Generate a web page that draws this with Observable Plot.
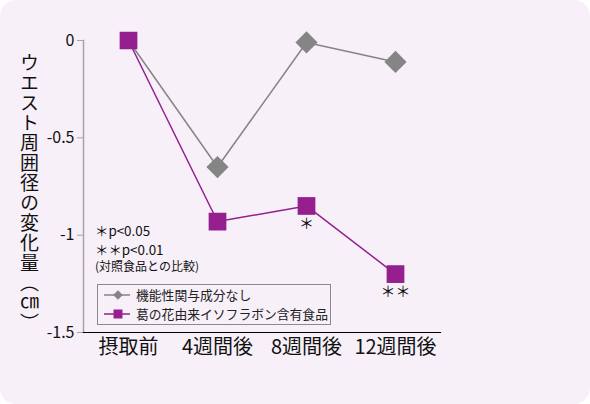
<!DOCTYPE html>
<html>
<head>
<meta charset="utf-8">
<script src="https://cdn.jsdelivr.net/npm/d3@7"></script>
<script src="https://cdn.jsdelivr.net/npm/@observablehq/plot@0.6"></script>
<style>
  html, body { margin: 0; padding: 0; background: #ffffff; }
  #card {
    position: relative; width: 590px; height: 404px; background: #f7f0f8;
    border-radius: 16px; overflow: hidden;
    font-family: "Noto Sans CJK JP", "Noto Sans", sans-serif; color: #111;
  }
  #chart { position: absolute; left: 0; top: 0; }
  #ytitle {
    position: absolute; left: 20px; top: 53px; writing-mode: vertical-rl;
    font-size: 19px; line-height: 1; color: #111; letter-spacing: 1px;
  }
  #notes { position: absolute; left: 95px; top: 221px; white-space: nowrap; }
  #notes div { font-size: 13.4px; height: 18.5px; line-height: 18.5px; }
  #notes div.small { font-size: 12px; height: 16px; line-height: 16px; }
  #legend {
    position: absolute; left: 97px; top: 284px; width: 234px; height: 41px;
    border: 1px solid #8a8a8a; box-sizing: border-box; padding-top: 1px;
  }
  .row { display: flex; align-items: center; height: 18.5px; line-height: 18.5px; font-size: 12.8px; color: #222; white-space: nowrap; }
  .row svg { margin-left: 6px; margin-right: 6px; flex: none; }
</style>
</head>
<body>
<div id="card">
  <div id="chart"></div>
  <div id="ytitle"></div>
  <div id="notes"></div>
  <div id="legend"></div>
</div>
<script>
const timepoints = ["摂取前", "4週間後", "8週間後", "12週間後"];
const seriesNames = ["機能性関与成分なし", "葛の花由来イソフラボン含有食品"];
const controlValues = [0, -0.65, -0.01, -0.11];
const isoflavoneValues = [0, -0.93, -0.85, -1.2];
const significance = ["", "", "＊", "＊＊"];
const yTicks = [0, -0.5, -1, -1.5];
const yTitle = "ウエスト周囲径の変化量（㎝）";
const notes = ["＊p<0.05", "＊＊p<0.01", "(対照食品との比較)"];

const seriesColors = ["#858585", "#951f8e"];
const seriesSymbols = ["diamond2", "square"];

const rows = [];
timepoints.forEach((t, i) => rows.push({t, v: controlValues[i], s: seriesNames[0], sig: ""}));
timepoints.forEach((t, i) => rows.push({t, v: isoflavoneValues[i], s: seriesNames[1], sig: significance[i]}));

const chart = Plot.plot({
  width: 590, height: 404,
  marginLeft: 83, marginRight: 150, marginTop: 40, marginBottom: 72,
  style: {background: "transparent", fontFamily: "'Noto Sans CJK JP', sans-serif", overflow: "visible"},
  x: {type: "point", domain: timepoints, padding: 0.5, label: null},
  y: {domain: [-1.5, 0], label: null},
  color: {domain: seriesNames, range: seriesColors},
  symbol: {domain: seriesNames, range: seriesSymbols},
  marks: [
    Plot.ruleY([0], {x2: () => timepoints[timepoints.length - 1], stroke: "#b3abb3", strokeWidth: 2}),
    Plot.axisY({ticks: yTicks, tickFormat: d => String(d), tickSize: 6, tickPadding: 3, fontSize: 16, stroke: "#aaa2aa", fill: "#111", label: null}),
    Plot.axisX({tickSize: 0, tickPadding: 7, fontSize: 20, fill: "#111", label: null}),
    Plot.frame({anchor: "left", stroke: "#aaa2aa", strokeWidth: 1.5}),
    Plot.frame({anchor: "bottom", stroke: "#000", strokeWidth: 1.2}),
    Plot.line(rows, {x: "t", y: "v", stroke: "s", z: "s", strokeWidth: 1.5}),
    Plot.dot(rows, {
      filter: d => !(d.s === seriesNames[0] && d.t === timepoints[0]),
      x: "t", y: "v", symbol: "s", fill: "s", r: 10, stroke: "none"
    }),
    Plot.text(rows.filter(d => d.sig), {x: "t", y: "v", text: "sig", dy: 18, fontSize: 15, fill: "#111"})
  ]
});
document.getElementById("chart").appendChild(chart);

document.getElementById("ytitle").textContent = yTitle;

const notesEl = document.getElementById("notes");
notes.forEach((n, i) => {
  const d = document.createElement("div");
  d.textContent = n;
  if (i === 2) d.className = "small";
  notesEl.appendChild(d);
});

const legend = document.getElementById("legend");
seriesNames.forEach((name, i) => {
  const row = document.createElement("div");
  row.className = "row";
  const ns = "http://www.w3.org/2000/svg";
  const svg = document.createElementNS(ns, "svg");
  svg.setAttribute("width", 26); svg.setAttribute("height", 14);
  const line = document.createElementNS(ns, "line");
  line.setAttribute("x1", 0); line.setAttribute("x2", 26);
  line.setAttribute("y1", 7); line.setAttribute("y2", 7);
  line.setAttribute("stroke", seriesColors[i]); line.setAttribute("stroke-width", 1.5);
  svg.appendChild(line);
  const path = document.createElementNS(ns, "path");
  const sym = i === 0 ? d3.symbolDiamond2 : d3.symbolSquare;
  path.setAttribute("d", d3.symbol(sym, i === 0 ? 60 : 80)());
  path.setAttribute("transform", "translate(14,7)");
  path.setAttribute("fill", seriesColors[i]);
  svg.appendChild(path);
  row.appendChild(svg);
  const span = document.createElement("span");
  span.textContent = name;
  row.appendChild(span);
  legend.appendChild(row);
});
</script>
</body>
</html>
